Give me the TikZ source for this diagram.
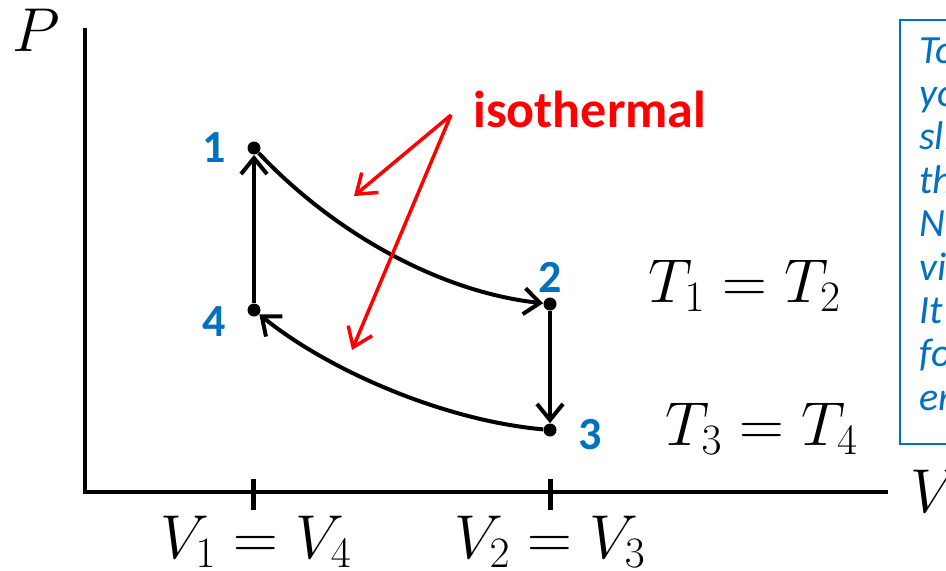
\documentclass[tikz,border=0pt]{standalone}
\usepackage{fix-cm}
\usepackage{fontspec}
\newfontfamily\carlito{Carlito}
\usepackage{tikz}
\usetikzlibrary{arrows.meta,positioning}
\definecolor{slideblue}{RGB}{0,112,192}
\definecolor{isored}{RGB}{255,0,0}

\begin{document}
\begin{tikzpicture}[
  x=0.5pt, y=-0.5pt,
  every node/.style={inner sep=0pt},
  statept/.style={circle, fill=black, minimum size=6.5pt},
  statelbl/.style={font=\carlito\bfseries\fontsize{23}{27}\selectfont, text=slideblue},
  mathlbl/.style={font=\fontsize{31}{37}\selectfont, anchor=base},
  process/.style={line width=2pt, -{Straight Barb[length=8pt, width=13pt]}},
  isoarrow/.style={isored, line width=1.75pt, -{Straight Barb[length=9pt, width=13pt]}},
  axisline/.style={line width=2pt},
  notetext/.style={font=\carlito\itshape\fontsize{20}{24}\selectfont, text=slideblue, anchor=base west}
]
\useasboundingbox (0,0) rectangle (946,570);
\clip (0,0) rectangle (946,570);

% axes
\draw[axisline] (85,28) -- (85,492) -- (888,492);
\draw[line width=2.5pt] (253,479) -- (253,510);
\draw[line width=2.5pt] (550,479) -- (550,510);
\node[mathlbl] (plbl) at (36,51) {$P$};
\node[mathlbl] (vlbl) at (935,512) {$V$};
\node[mathlbl] (v14) at (256,558) {$V_1 = V_4$};
\node[mathlbl] (v23) at (550,558) {$V_2 = V_3$};

% states
\node[statept] (p1) at (254,148) {};
\node[statept] (p2) at (550,304) {};
\node[statept] (p3) at (550,430) {};
\node[statept] (p4) at (254,310) {};
\node[statelbl, left=10.5pt of p1] (l1) {1};
\node[statelbl, above=2pt of p2] (l2) {2};
\node[statelbl, right=10.5pt of p3, yshift=-2.5pt] (l3) {3};
\node[statelbl, left=10.5pt of p4, yshift=-6pt] (l4) {4};

\draw[process] (p1) .. controls (334,233) and (440,292) .. (p2);
\draw[process] (p2) -- (p3);
\draw[process] (p3) .. controls (440,420) and (325,368) .. (p4);
\draw[process] (p4) -- (p1);

\node[mathlbl] (t12) at (745,302) {$T_1 = T_2$};
\node[mathlbl] (t34) at (762,445) {$T_3 = T_4$};

% isothermal pointers
\node[font=\carlito\bfseries\fontsize{26}{30}\selectfont, text=isored, anchor=base west] (iso) at (473,127) {isothermal};
\coordinate (fork) at (451,115);
\coordinate (upperiso) at (354,196);
\coordinate (loweriso) at (352,350);
\draw[isoarrow] (fork) -- (upperiso);
\draw[isoarrow] (fork) -- (loweriso);

% note box (cut at the edge)
\draw[slideblue, line width=0.9pt] (900,20) rectangle (990,444);
\foreach \txt [count=\i] in {To,yo,sli,th,No,vi,It,fo,er}
  \node[notetext] (note\i) at (919,{63+43.4*(\i-1)}) {\txt};
\end{tikzpicture}
\end{document}
